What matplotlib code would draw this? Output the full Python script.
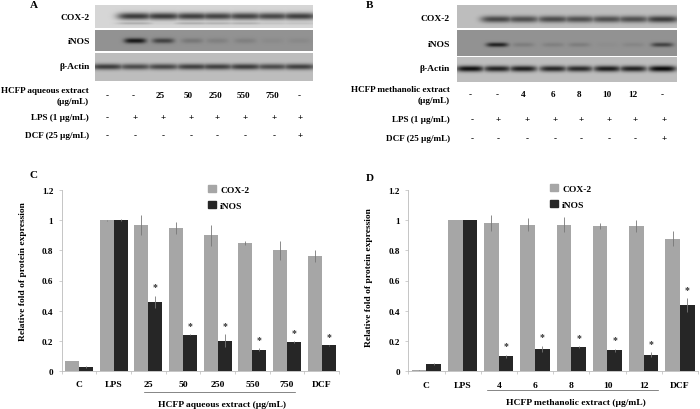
import numpy as np
import matplotlib
matplotlib.use('Agg')
import matplotlib.pyplot as plt
from matplotlib.patches import Patch

plt.rcParams['font.family'] = ['Liberation Serif', 'DejaVu Serif']
plt.rcParams['font.weight'] = 'bold'

W, H = 700, 410
GRAY = '#a6a6a6'
DARK = '#262626'

# bar values
cats_c = ['C', 'LPS', '25', '50', '250', '550', '750', 'DCF']
cox_c = [0.065, 1, 0.97, 0.95, 0.90, 0.85, 0.80, 0.765]
cox_c_err = [0.002, 0.004, 0.068, 0.04, 0.07, 0.015, 0.065, 0.04]
inos_c = [0.025, 1, 0.46, 0.24, 0.20, 0.14, 0.19, 0.17]
inos_c_err = [0.006, 0.006, 0.04, 0.003, 0.045, 0.01, 0.005, 0.003]

cats_d = ['C', 'LPS', '4', '6', '8', '10', '12', 'DCF']
cox_d = [0.008, 1, 0.98, 0.97, 0.97, 0.96, 0.96, 0.875]
cox_d_err = [0.003, 0.003, 0.05, 0.04, 0.05, 0.02, 0.04, 0.05]
inos_d = [0.05, 1, 0.10, 0.15, 0.16, 0.14, 0.11, 0.44]
inos_d_err = [0.008, 0.002, 0.01, 0.02, 0.005, 0.01, 0.015, 0.045]

# blot band strengths per lane
blot_a_cox = [0.0, 0.72, 0.72, 0.7, 0.68, 0.68, 0.66, 0.7]
blot_a_cox2 = [0.0, 0.2, 0.05, 0.2, 0.18, 0.18, 0.1, 0.1]
blot_a_inos = [0.0, 0.85, 0.55, 0.18, 0.12, 0.12, 0.05, 0.06]
blot_a_actin = [0.68, 0.6, 0.62, 0.66, 0.66, 0.68, 0.6, 0.66]

blot_b_cox = [0.0, 0.62, 0.58, 0.6, 0.58, 0.58, 0.58, 0.68]
blot_b_inos = [0.0, 0.78, 0.14, 0.12, 0.14, 0.03, 0.08, 0.55]
blot_b_actin = [0.92, 0.82, 0.84, 0.8, 0.78, 0.85, 0.82, 0.95]

# table rows
row_extract_a = ['-', '-', '25', '50', '250', '550', '750', '-']
row_extract_b = ['-', '-', '4', '6', '8', '10', '12', '-']
row_lps = ['-', '+', '+', '+', '+', '+', '+', '+']
row_dcf = ['-', '-', '-', '-', '-', '-', '-', '+']


def px_axes(fig, x0, y0, x1, y1):
    return fig.add_axes([x0 / W, 1 - y1 / H, (x1 - x0) / W, (y1 - y0) / H])


def draw_blot(bg, x0, y0, x1, y1, lanes, bands, bg_level, cy, wy, wx, second=None):
    xs = np.arange(x0, x1, 0.5)
    ys = np.arange(y0, y1, 0.5)
    xx, yy = np.meshgrid(xs, ys)
    dark = np.zeros_like(xx)
    for cx, s in zip(lanes, bands):
        dark = np.maximum(dark, s * np.exp(-((xx - cx) / wx) ** 4) * np.exp(-((yy - cy) / wy) ** 2))
    if second is not None:
        for cx, s in zip(lanes, second):
            dark = np.maximum(dark, s * np.exp(-((xx - cx) / wx) ** 4) * np.exp(-((yy - cy - 7) / 1.3) ** 2))
    img = bg_level * (1 - dark)
    bg.imshow(img, cmap='gray', vmin=0, vmax=255, aspect='auto',
              extent=(x0, x1, y1, y0), interpolation='bilinear')


def draw_rows(bg, lanes_top, lanes_low, extract, label_right, extract_label, y_top, y_lps, y_dcf):
    fs = 6.6
    for x, t in zip(lanes_top, extract):
        bg.text(x, y_top, t, ha='center', va='center', fontsize=fs)
    for x, t in zip(lanes_low, row_lps):
        bg.text(x, y_lps, t, ha='center', va='center', fontsize=fs)
    for x, t in zip(lanes_low, row_dcf):
        bg.text(x, y_dcf, t, ha='center', va='center', fontsize=fs)
    bg.text(label_right, y_top - 5, extract_label, ha='right', va='center', fontsize=fs)
    bg.text(label_right, y_top + 6, '(µg/mL)', ha='right', va='center', fontsize=fs)
    bg.text(label_right, y_lps, 'LPS (1 µg/mL)', ha='right', va='center', fontsize=fs)
    bg.text(label_right, y_dcf, 'DCF (25 µg/mL)', ha='right', va='center', fontsize=fs)


def draw_bars(fig, bg, box, cats, cox, cox_err, inos, inos_err, stars, legend_at, ylabel_at):
    ax = px_axes(fig, *box)
    ax.patch.set_alpha(0)
    x = np.arange(len(cats))
    w = 0.405
    err_style = dict(ecolor='#777777', elinewidth=0.6, capsize=0)
    ax.bar(x - w / 2, cox, w, color=GRAY, yerr=cox_err, error_kw=err_style)
    ax.bar(x + w / 2, inos, w, color=DARK, yerr=inos_err, error_kw=err_style)
    for i in stars:
        ax.annotate('*', (x[i] + w / 2, inos[i] + inos_err[i]), xytext=(0, 3),
                    textcoords='offset points', ha='center', va='bottom', fontsize=7, color='#333333')
    ax.set_xlim(-0.5, len(cats) - 0.5)
    ax.set_ylim(0, 1.2)
    ax.set_yticks([0, 0.2, 0.4, 0.6, 0.8, 1, 1.2])
    ax.set_yticklabels(['0', '0.2', '0.4', '0.6', '0.8', '1', '1.2'], fontsize=6.6)
    ax.set_xticks(np.arange(len(cats) + 1) - 0.5, minor=True)
    ax.set_xticks(x)
    ax.set_xticklabels(cats, fontsize=6.8)
    ax.tick_params(axis='x', which='major', length=0, pad=7)
    ax.tick_params(axis='x', which='minor', length=2, width=0.5, color='#bbbbbb')
    ax.tick_params(axis='y', length=2, width=0.5, color='#bbbbbb', pad=4)
    for s in ['top', 'right']:
        ax.spines[s].set_visible(False)
    for s in ['left', 'bottom']:
        ax.spines[s].set_color('#bbbbbb')
        ax.spines[s].set_linewidth(0.6)
    bg.text(ylabel_at[0], ylabel_at[1], 'Relative fold of protein expression', rotation=90,
            ha='center', va='center', fontsize=6.8)
    handles = [Patch(color=GRAY, label='COX-2'), Patch(color=DARK, label='iNOS')]
    fig.legend(handles=handles, loc='upper left', frameon=False, fontsize=6.8,
               bbox_to_anchor=(legend_at[0] / W, 1 - legend_at[1] / H),
               handlelength=0.8, handleheight=0.8, handletextpad=0.5,
               labelspacing=0.75, borderpad=0, borderaxespad=0)
    return ax


fig = plt.figure(figsize=(W / 100, H / 100), dpi=100)
bg = fig.add_axes([0, 0, 1, 1])

# panel A blots
lanes_a = [107, 135, 163, 192, 217, 245, 272, 299]
draw_blot(bg, 95, 6, 313, 29, lanes_a, blot_a_cox, 214, 17, 3.6, 18, second=blot_a_cox2)
draw_blot(bg, 95, 31, 313, 52, lanes_a, blot_a_inos, 146, 41.5, 2.6, 11)
draw_blot(bg, 95, 54, 313, 82, lanes_a, blot_a_actin, 190, 67.5, 3.0, 17)
for y, t in [(18, 'COX-2'), (42, 'iNOS'), (67, 'β-Actin')]:
    bg.text(90, y, t, ha='right', va='center', fontsize=6.8)
draw_rows(bg, [107, 133, 160, 188, 216, 243, 272, 299], [107, 135, 163, 191, 217, 245, 274, 300],
          row_extract_a, 89, 'HCFP aqueous extract', 96, 118, 136)

# panel B blots
lanes_b = [470, 497, 523, 553, 579, 607, 633, 662]
draw_blot(bg, 457, 6, 677, 29, lanes_b, blot_b_cox, 190, 20, 3.4, 16.5)
draw_blot(bg, 457, 31, 677, 57, lanes_b, blot_b_inos, 146, 45.5, 2.2, 11)
draw_blot(bg, 457, 58, 677, 83, lanes_b, blot_b_actin, 190, 69.5, 3.0, 14)
for y, t in [(19, 'COX-2'), (45, 'iNOS'), (69, 'β-Actin')]:
    bg.text(450, y, t, ha='right', va='center', fontsize=6.8)
draw_rows(bg, [470, 497, 523, 553, 579, 607, 633, 662], [472, 498, 527, 555, 581, 609, 635, 664],
          row_extract_b, 450, 'HCFP methanolic extract', 95, 120, 139)

for x, y, t in [(34, 5.5, 'A'), (370, 5.5, 'B'), (33, 176, 'C'), (370, 179, 'D')]:
    bg.text(x, y, t, ha='center', va='center', fontsize=8)

# brackets under the dose groups
bg.plot([144, 295], [393, 393], color='#555555', lw=0.5)
bg.plot([487, 658], [391, 391], color='#555555', lw=0.5)
bg.text(221.5, 405, 'HCFP aqueous extract (µg/mL)', ha='center', va='center', fontsize=6.8)
bg.text(575.5, 403.5, 'HCFP methanolic extract (µg/mL)', ha='center', va='center', fontsize=6.8)

draw_bars(fig, bg, (61.7, 191.3, 339, 371.7), cats_c, cox_c, cox_c_err, inos_c, inos_c_err,
          [2, 3, 4, 5, 6, 7], (208, 186), (23, 272))
draw_bars(fig, bg, (408.3, 190.7, 698, 372.3), cats_d, cox_d, cox_d_err, inos_d, inos_d_err,
          [2, 3, 4, 5, 6, 7], (550, 185), (369, 278))

bg.set_xlim(0, W)
bg.set_ylim(H, 0)
bg.axis('off')

fig.savefig('out.png', dpi=100)
